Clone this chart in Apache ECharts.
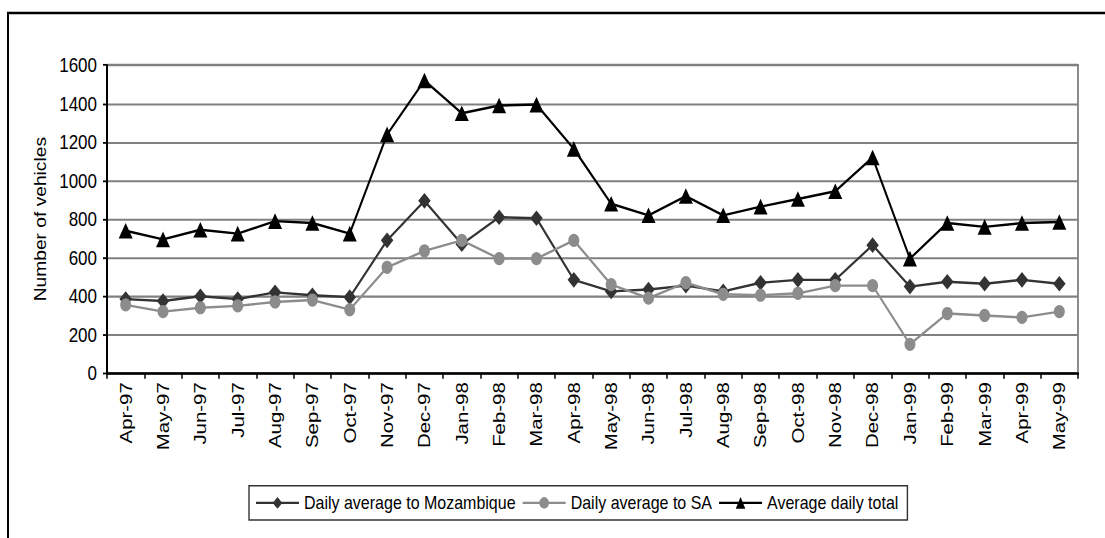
<!DOCTYPE html>
<html>
<head>
<meta charset="utf-8">
<script src="https://cdn.jsdelivr.net/npm/echarts@6/dist/echarts.min.js"></script>
<style>
  html, body { margin: 0; padding: 0; background: #fff; }
  #frame { width: 1105px; height: 538px; overflow: hidden; position: relative; }
  /* the chart is laid out on a shorter canvas and stretched to full height */
  #chart { position: absolute; left: 0; top: 0; width: 1105px; height: 448px; transform: scaleY(1.2009); transform-origin: 0 0; }
</style>
</head>
<body>
<div id="frame"><div id="chart"></div></div>
<script>
// Monthly border crossings, April 1997 - May 1999
const months = ['Apr-97','May-97','Jun-97','Jul-97','Aug-97','Sep-97','Oct-97','Nov-97','Dec-97',
  'Jan-98','Feb-98','Mar-98','Apr-98','May-98','Jun-98','Jul-98','Aug-98','Sep-98','Oct-98',
  'Nov-98','Dec-98','Jan-99','Feb-99','Mar-99','Apr-99','May-99'];
const toMozambique = [385,375,400,385,420,405,395,690,895,670,810,805,485,425,435,455,425,470,485,485,665,450,475,465,485,465];
const toSA = [355,320,340,350,370,380,330,550,635,690,595,595,690,460,390,470,410,405,415,455,455,150,310,300,290,320];
const dailyTotal = [740,695,745,725,790,780,725,1240,1520,1350,1390,1395,1165,880,820,920,820,865,905,945,1120,595,780,760,780,785];
const yTicks = { min: 0, max: 1600, step: 200 };

const sans = '"Liberation Sans", Arial, sans-serif';

const chart = echarts.init(document.getElementById('chart'), null, { renderer: 'svg' });

chart.setOption({
  animation: false,
  backgroundColor: '#ffffff',
  graphic: [{
    type: 'rect',
    shape: { x: 8, y: 10.8, width: 1120, height: 480 },
    style: { fill: 'none', stroke: '#000', lineWidth: 2 },
    silent: true
  }],
  grid: {
    left: 107, right: 27, top: 54.2, bottom: 137.2,
    show: true, borderColor: '#808080', borderWidth: 1.8
  },
  legend: {
    left: 249, top: 404.5,
    padding: [6, 9, 6, 6],
    itemGap: 6,
    itemWidth: 43, itemHeight: 12,
    borderColor: '#333', borderWidth: 1.4,
    textStyle: { fontFamily: sans, fontSize: 16, color: '#000', lineHeight: 16.5 },
    data: ['Daily average to Mozambique', 'Daily average to SA', 'Average daily total']
  },
  xAxis: {
    type: 'category',
    data: months,
    boundaryGap: true,
    axisLine: { lineStyle: { color: '#000', width: 2 } },
    axisTick: { show: true, length: 4.5, lineStyle: { color: '#000', width: 1.5 } },
    axisLabel: { rotate: 90, margin: 7.5, fontFamily: sans, fontSize: 17, color: '#000', interval: 0 }
  },
  yAxis: {
    type: 'value',
    min: yTicks.min, max: yTicks.max, interval: yTicks.step,
    name: 'Number of vehicles',
    nameLocation: 'middle',
    nameGap: 51,
    nameTextStyle: { fontFamily: sans, fontSize: 16, color: '#000' },
    axisLine: { show: true, lineStyle: { color: '#000', width: 2 } },
    axisTick: { show: true, length: 4, lineStyle: { color: '#000', width: 1.5 } },
    axisLabel: { margin: 10, fontFamily: sans, fontSize: 17, color: '#000', formatter: v => String(v) },
    splitLine: { show: true, lineStyle: { color: '#808080', width: 1.7 } }
  },
  series: [
    {
      name: 'Daily average to Mozambique',
      type: 'line',
      data: toMozambique,
      symbol: 'diamond',
      symbolSize: [12.5, 13],
      lineStyle: { color: '#333333', width: 2 },
      itemStyle: { color: '#333333' },
      z: 3
    },
    {
      name: 'Daily average to SA',
      type: 'line',
      data: toSA,
      symbol: 'circle',
      symbolSize: 11,
      lineStyle: { color: '#8c8c8c', width: 2 },
      itemStyle: { color: '#8c8c8c' },
      z: 4
    },
    {
      name: 'Average daily total',
      type: 'line',
      data: dailyTotal,
      symbol: 'triangle',
      symbolSize: [14, 13],
      lineStyle: { color: '#000000', width: 2 },
      itemStyle: { color: '#000000' },
      z: 5
    }
  ]
});
</script>
</body>
</html>
